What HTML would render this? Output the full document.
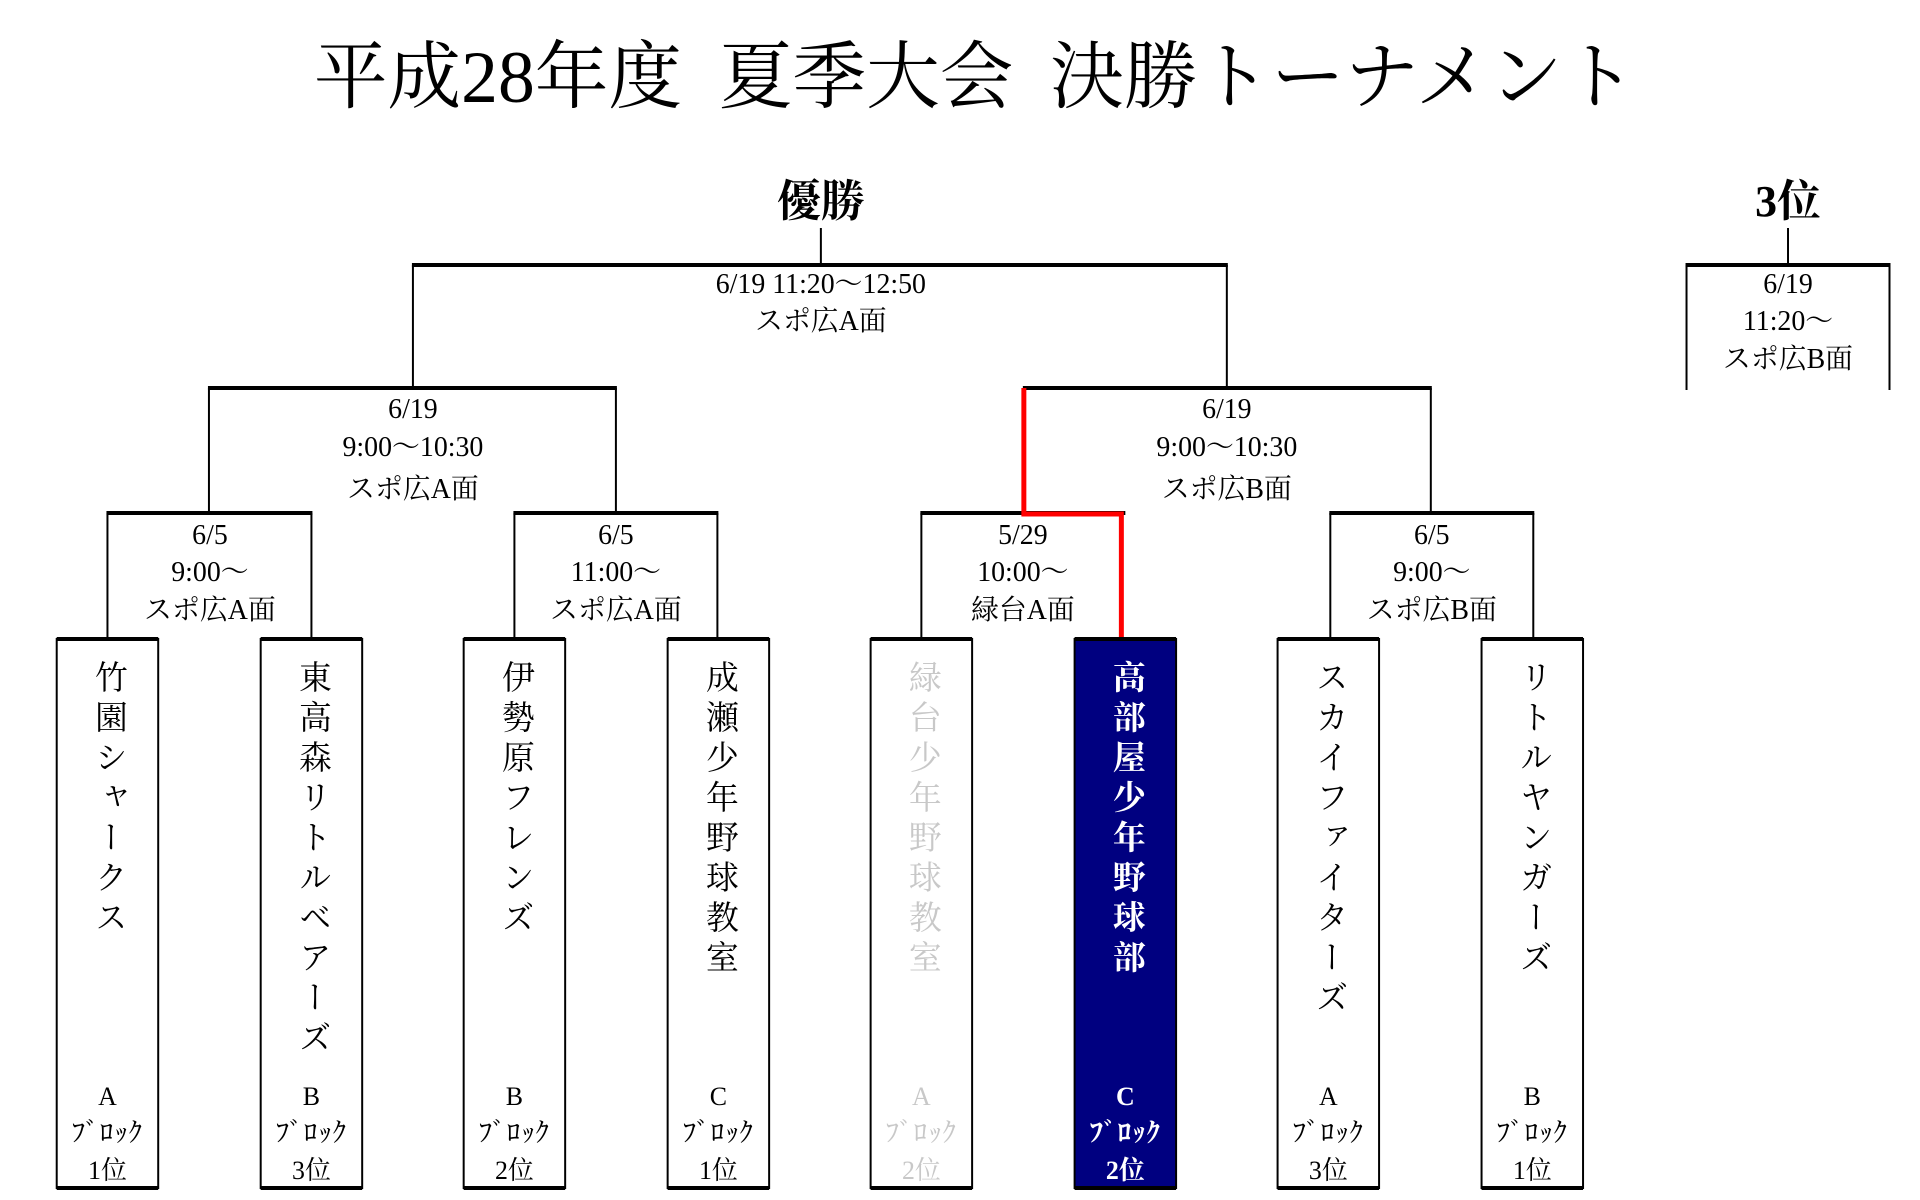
<!DOCTYPE html>
<html><head><meta charset="utf-8"><style>
html,body{margin:0;padding:0;background:#fff;}
body{width:1920px;height:1200px;position:relative;overflow:hidden;font-family:"Liberation Serif","Noto Serif CJK SC",serif;color:#000;}
#w{position:absolute;left:0;top:0;width:1920px;height:1200px;transform:scaleX(0.995);transform-origin:0 0;}
.t{position:absolute;white-space:nowrap;transform:translate(-50%,-50%);line-height:1;}
.lab{font-size:28px;}
.team{position:absolute;top:660px;writing-mode:vertical-rl;font-size:33px;letter-spacing:7px;transform:translateX(-50%);line-height:1;}
.blk{position:absolute;transform:translateX(-50%);text-align:center;font-size:26px;line-height:37px;top:1078px;white-space:nowrap;}
.blk .s{font-size:27px;letter-spacing:1px;}
</style></head><body><div id="w">
<svg width="1920" height="1200" style="position:absolute;left:0;top:0">
<g stroke="#000" fill="none">
<line x1="825" y1="228" x2="825" y2="265" stroke-width="2"/>
<line x1="414" y1="265" x2="1234" y2="265" stroke-width="4"/>
<line x1="415" y1="265" x2="415" y2="390" stroke-width="2"/>
<line x1="1233" y1="265" x2="1233" y2="390" stroke-width="2"/>
<line x1="209" y1="388" x2="620" y2="388" stroke-width="4"/>
<line x1="210" y1="388" x2="210" y2="514" stroke-width="2"/>
<line x1="619" y1="388" x2="619" y2="514" stroke-width="2"/>
<line x1="1028" y1="388" x2="1439" y2="388" stroke-width="4"/>
<line x1="1438" y1="388" x2="1438" y2="514" stroke-width="2"/>
<line x1="107" y1="513" x2="314" y2="513" stroke-width="4"/>
<line x1="108" y1="513" x2="108" y2="638" stroke-width="2"/>
<line x1="313" y1="513" x2="313" y2="638" stroke-width="2"/>
<line x1="516" y1="513" x2="722" y2="513" stroke-width="4"/>
<line x1="517" y1="513" x2="517" y2="638" stroke-width="2"/>
<line x1="721" y1="513" x2="721" y2="638" stroke-width="2"/>
<line x1="925" y1="513" x2="1131" y2="513" stroke-width="4"/>
<line x1="926" y1="513" x2="926" y2="638" stroke-width="2"/>
<line x1="1336" y1="513" x2="1542" y2="513" stroke-width="4"/>
<line x1="1337" y1="513" x2="1337" y2="638" stroke-width="2"/>
<line x1="1541" y1="513" x2="1541" y2="638" stroke-width="2"/>
<line x1="1797" y1="228" x2="1797" y2="265" stroke-width="2"/>
<line x1="1694" y1="265" x2="1900" y2="265" stroke-width="4"/>
<line x1="1695" y1="265" x2="1695" y2="390" stroke-width="2"/>
<line x1="1899" y1="265" x2="1899" y2="390" stroke-width="2"/>
</g>
<polyline points="1029,388 1029,514 1127,514 1127,638" stroke="#f00" stroke-width="5" fill="none"/>
<g stroke="#000" stroke-width="2">
<rect x="57" y="639" width="102" height="549" fill="#fff"/>
<rect x="262" y="639" width="102" height="549" fill="#fff"/>
<rect x="466" y="639" width="102" height="549" fill="#fff"/>
<rect x="671" y="639" width="102" height="549" fill="#fff"/>
<rect x="875" y="639" width="102" height="549" fill="#fff"/>
<rect x="1080" y="639" width="102" height="549" fill="#000080"/>
<rect x="1284" y="639" width="102" height="549" fill="#fff"/>
<rect x="1489" y="639" width="102" height="549" fill="#fff"/>
</g>
<g stroke="#000" stroke-width="4">
<line x1="57" y1="639" x2="159" y2="639"/><line x1="57" y1="1188" x2="159" y2="1188"/>
<line x1="262" y1="639" x2="364" y2="639"/><line x1="262" y1="1188" x2="364" y2="1188"/>
<line x1="466" y1="639" x2="568" y2="639"/><line x1="466" y1="1188" x2="568" y2="1188"/>
<line x1="671" y1="639" x2="773" y2="639"/><line x1="671" y1="1188" x2="773" y2="1188"/>
<line x1="875" y1="639" x2="977" y2="639"/><line x1="875" y1="1188" x2="977" y2="1188"/>
<line x1="1080" y1="639" x2="1182" y2="639"/><line x1="1080" y1="1188" x2="1182" y2="1188"/>
<line x1="1284" y1="639" x2="1386" y2="639"/><line x1="1284" y1="1188" x2="1386" y2="1188"/>
<line x1="1489" y1="639" x2="1591" y2="639"/><line x1="1489" y1="1188" x2="1591" y2="1188"/>
</g>
</svg>

<div class="t" style="left:980px;top:78px;font-size:74px;">平成28年度&nbsp;&nbsp;夏季大会&nbsp;&nbsp;決勝トーナメント</div>
<div class="t" style="left:825px;top:202px;font-size:44px;font-weight:bold;">優勝</div>
<div class="t" style="left:1797px;top:202px;font-size:44px;font-weight:bold;">3位</div>

<div class="t lab" style="left:825px;top:285px;">6/19 11:20～12:50</div>
<div class="t lab" style="left:825px;top:322px;">スポ広A面</div>

<div class="t lab" style="left:1797px;top:285px;">6/19</div>
<div class="t lab" style="left:1797px;top:322px;">11:20～</div>
<div class="t lab" style="left:1797px;top:360px;">スポ広B面</div>

<div class="t lab" style="left:415px;top:410px;">6/19</div>
<div class="t lab" style="left:415px;top:448px;">9:00～10:30</div>
<div class="t lab" style="left:415px;top:490px;">スポ広A面</div>
<div class="t lab" style="left:1233px;top:410px;">6/19</div>
<div class="t lab" style="left:1233px;top:448px;">9:00～10:30</div>
<div class="t lab" style="left:1233px;top:490px;">スポ広B面</div>

<div class="t lab" style="left:211px;top:536px;">6/5</div>
<div class="t lab" style="left:211px;top:573px;">9:00～</div>
<div class="t lab" style="left:211px;top:611px;">スポ広A面</div>
<div class="t lab" style="left:619px;top:536px;">6/5</div>
<div class="t lab" style="left:619px;top:573px;">11:00～</div>
<div class="t lab" style="left:619px;top:611px;">スポ広A面</div>
<div class="t lab" style="left:1028px;top:536px;">5/29</div>
<div class="t lab" style="left:1028px;top:573px;">10:00～</div>
<div class="t lab" style="left:1028px;top:611px;">緑台A面</div>
<div class="t lab" style="left:1439px;top:536px;">6/5</div>
<div class="t lab" style="left:1439px;top:573px;">9:00～</div>
<div class="t lab" style="left:1439px;top:611px;">スポ広B面</div>

<div class="team" style="left:108px;">竹園シャークス</div>
<div class="team" style="left:313px;">東高森リトルベアーズ</div>
<div class="team" style="left:517px;">伊勢原フレンズ</div>
<div class="team" style="left:722px;">成瀬少年野球教室</div>
<div class="team" style="left:926px;color:#c8c8c8;">緑台少年野球教室</div>
<div class="team" style="left:1131px;color:#fff;font-weight:bold;">高部屋少年野球部</div>
<div class="team" style="left:1335px;">スカイファイターズ</div>
<div class="team" style="left:1540px;">リトルヤンガーズ</div>

<div class="blk" style="left:108px;">A<br><span class="s">ﾌﾞﾛｯｸ</span><br>1位</div>
<div class="blk" style="left:313px;">B<br><span class="s">ﾌﾞﾛｯｸ</span><br>3位</div>
<div class="blk" style="left:517px;">B<br><span class="s">ﾌﾞﾛｯｸ</span><br>2位</div>
<div class="blk" style="left:722px;">C<br><span class="s">ﾌﾞﾛｯｸ</span><br>1位</div>
<div class="blk" style="left:926px;color:#c8c8c8;">A<br><span class="s">ﾌﾞﾛｯｸ</span><br>2位</div>
<div class="blk" style="left:1131px;color:#fff;font-weight:bold;">C<br><span class="s">ﾌﾞﾛｯｸ</span><br>2位</div>
<div class="blk" style="left:1335px;">A<br><span class="s">ﾌﾞﾛｯｸ</span><br>3位</div>
<div class="blk" style="left:1540px;">B<br><span class="s">ﾌﾞﾛｯｸ</span><br>1位</div>
</div></body></html>
